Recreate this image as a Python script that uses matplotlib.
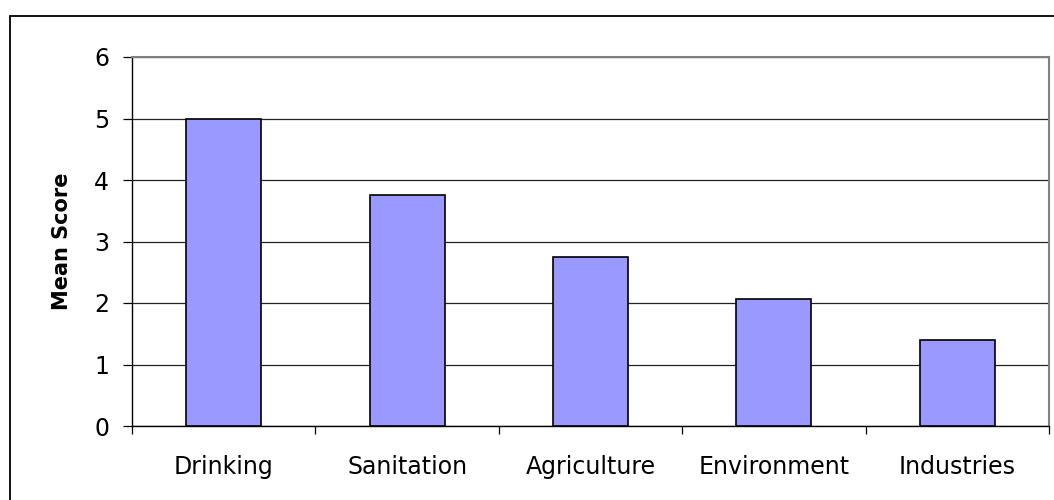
import matplotlib
matplotlib.use("Agg")
import matplotlib.pyplot as plt
from matplotlib.patches import Rectangle
import numpy as np

categories = ["Drinking", "Sanitation", "Agriculture", "Environment", "Industries"]
mean_scores = [5.0, 3.76, 2.75, 2.07, 1.40]
y_ticks = [0, 1, 2, 3, 4, 5, 6]

plt.rcParams['font.family'] = ['DejaVu Sans']

fig = plt.figure(figsize=(10.54, 5.0), dpi=100)
ax = fig.add_axes([132/1054, 74/500, (1049-132)/1054, (426-57)/500])

# outer chart frame
fig.patches.append(Rectangle((10/1054, -0.1), 2.0, 1 - 16/500 + 0.1,
                             transform=fig.transFigure, fill=False,
                             edgecolor='black', linewidth=1.3, zorder=0))

x = np.arange(len(categories))
ax.bar(x, mean_scores, width=0.41, color='#9999FF', edgecolor='black',
       linewidth=1.2, zorder=3)

ax.set_xlim(-0.5, len(categories) - 0.5)
ax.set_ylim(0, 6)
ax.set_yticks(y_ticks)
ax.set_yticklabels([str(t) for t in y_ticks], fontsize=17)
ax.yaxis.grid(True, color='#222222', linewidth=0.9, zorder=0)
ax.set_axisbelow(True)

# category labels between boundary ticks
ax.set_xticks(np.arange(-0.5, len(categories), 1.0))
ax.set_xticklabels([])
ax.set_xticks(x, minor=True)
ax.set_xticklabels(categories, minor=True, fontsize=17)
ax.tick_params(axis='x', which='minor', length=0, pad=21)
ax.tick_params(axis='x', which='major', length=6, width=0.9, direction='out', color='black')
ax.tick_params(axis='y', length=6.5, width=0.9, direction='out', pad=10, color='black')

for s in ['left', 'bottom']:
    ax.spines[s].set_color('black')
    ax.spines[s].set_linewidth(1.0)
for s in ['top', 'right']:
    ax.spines[s].set_color('#808080')
    ax.spines[s].set_linewidth(1.5)

ax.set_ylabel('Mean Score', fontsize=15, fontweight='bold')
ax.yaxis.set_label_coords((72 - 132) / 917, 0.5)

fig.savefig('out.png', dpi=100)
